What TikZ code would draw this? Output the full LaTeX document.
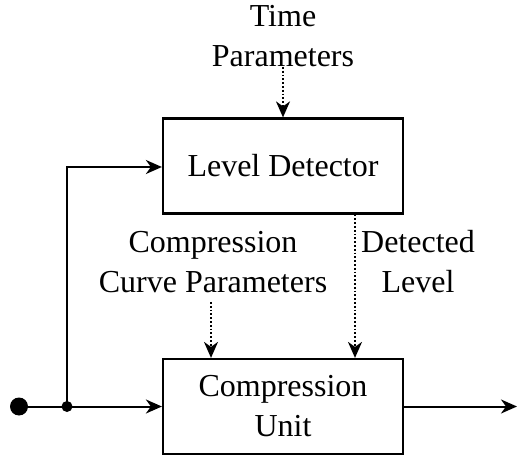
\documentclass[tikz,border=0pt]{standalone}
\usepackage{fontspec}
\setmainfont{Liberation Serif}
\usetikzlibrary{arrows.meta}
\begin{document}
\begin{tikzpicture}[x=1pt,y=-1pt,
  blk/.style={draw,line width=2.2pt,minimum width=240pt,minimum height=95pt,inner sep=0pt,align=center,font=\fontsize{32}{40}\selectfont},
  lbl/.style={align=center,inner sep=0pt,font=\fontsize{32}{40}\selectfont},
  sig/.style={line width=2pt,-{Stealth[length=16pt,width=14pt,inset=5pt]}},
  ctl/.style={line width=1.8pt,dotted,-{Stealth[length=16pt,width=14pt,inset=5pt]}},
  dotbig/.style={circle,fill,inner sep=0pt,minimum size=18pt},
  dotsmall/.style={circle,fill,inner sep=0pt,minimum size=11pt}]
\useasboundingbox (0,0) rectangle (517,457);
\node[blk] (ld) at (283,166) {Level Detector};
\node[blk] (cu) at (283,406.5) {Compression\\Unit};
\node[lbl] (tp) at (283,36) {Time\\Parameters};
\node[lbl] (ccp) at (213,262) {Compression\\Curve Parameters};
\node[lbl] (dtl) at (418,262) {Detected\\Level};
\node[dotbig] (in) at (19,406.5) {};
\node[dotsmall] (j) at (67,406.5) {};
\coordinate (corner) at (67,167);
\coordinate (ccs) at (211,302);
\coordinate (dlx) at (355,0);
\coordinate (out) at (517,406.5);
\draw[ctl] (tp.south) -- (ld.north);
\draw[ctl] (ccs) -- (ccs |- cu.north);
\draw[ctl] (ld.south -| dlx) -- (dlx |- cu.north);
\draw[sig] (in.center) -- (cu.west);
\draw[sig] (j.center) -- (corner) -- (corner -| ld.west);
\draw[sig] (cu.east) -- (out);
\end{tikzpicture}
\end{document}
